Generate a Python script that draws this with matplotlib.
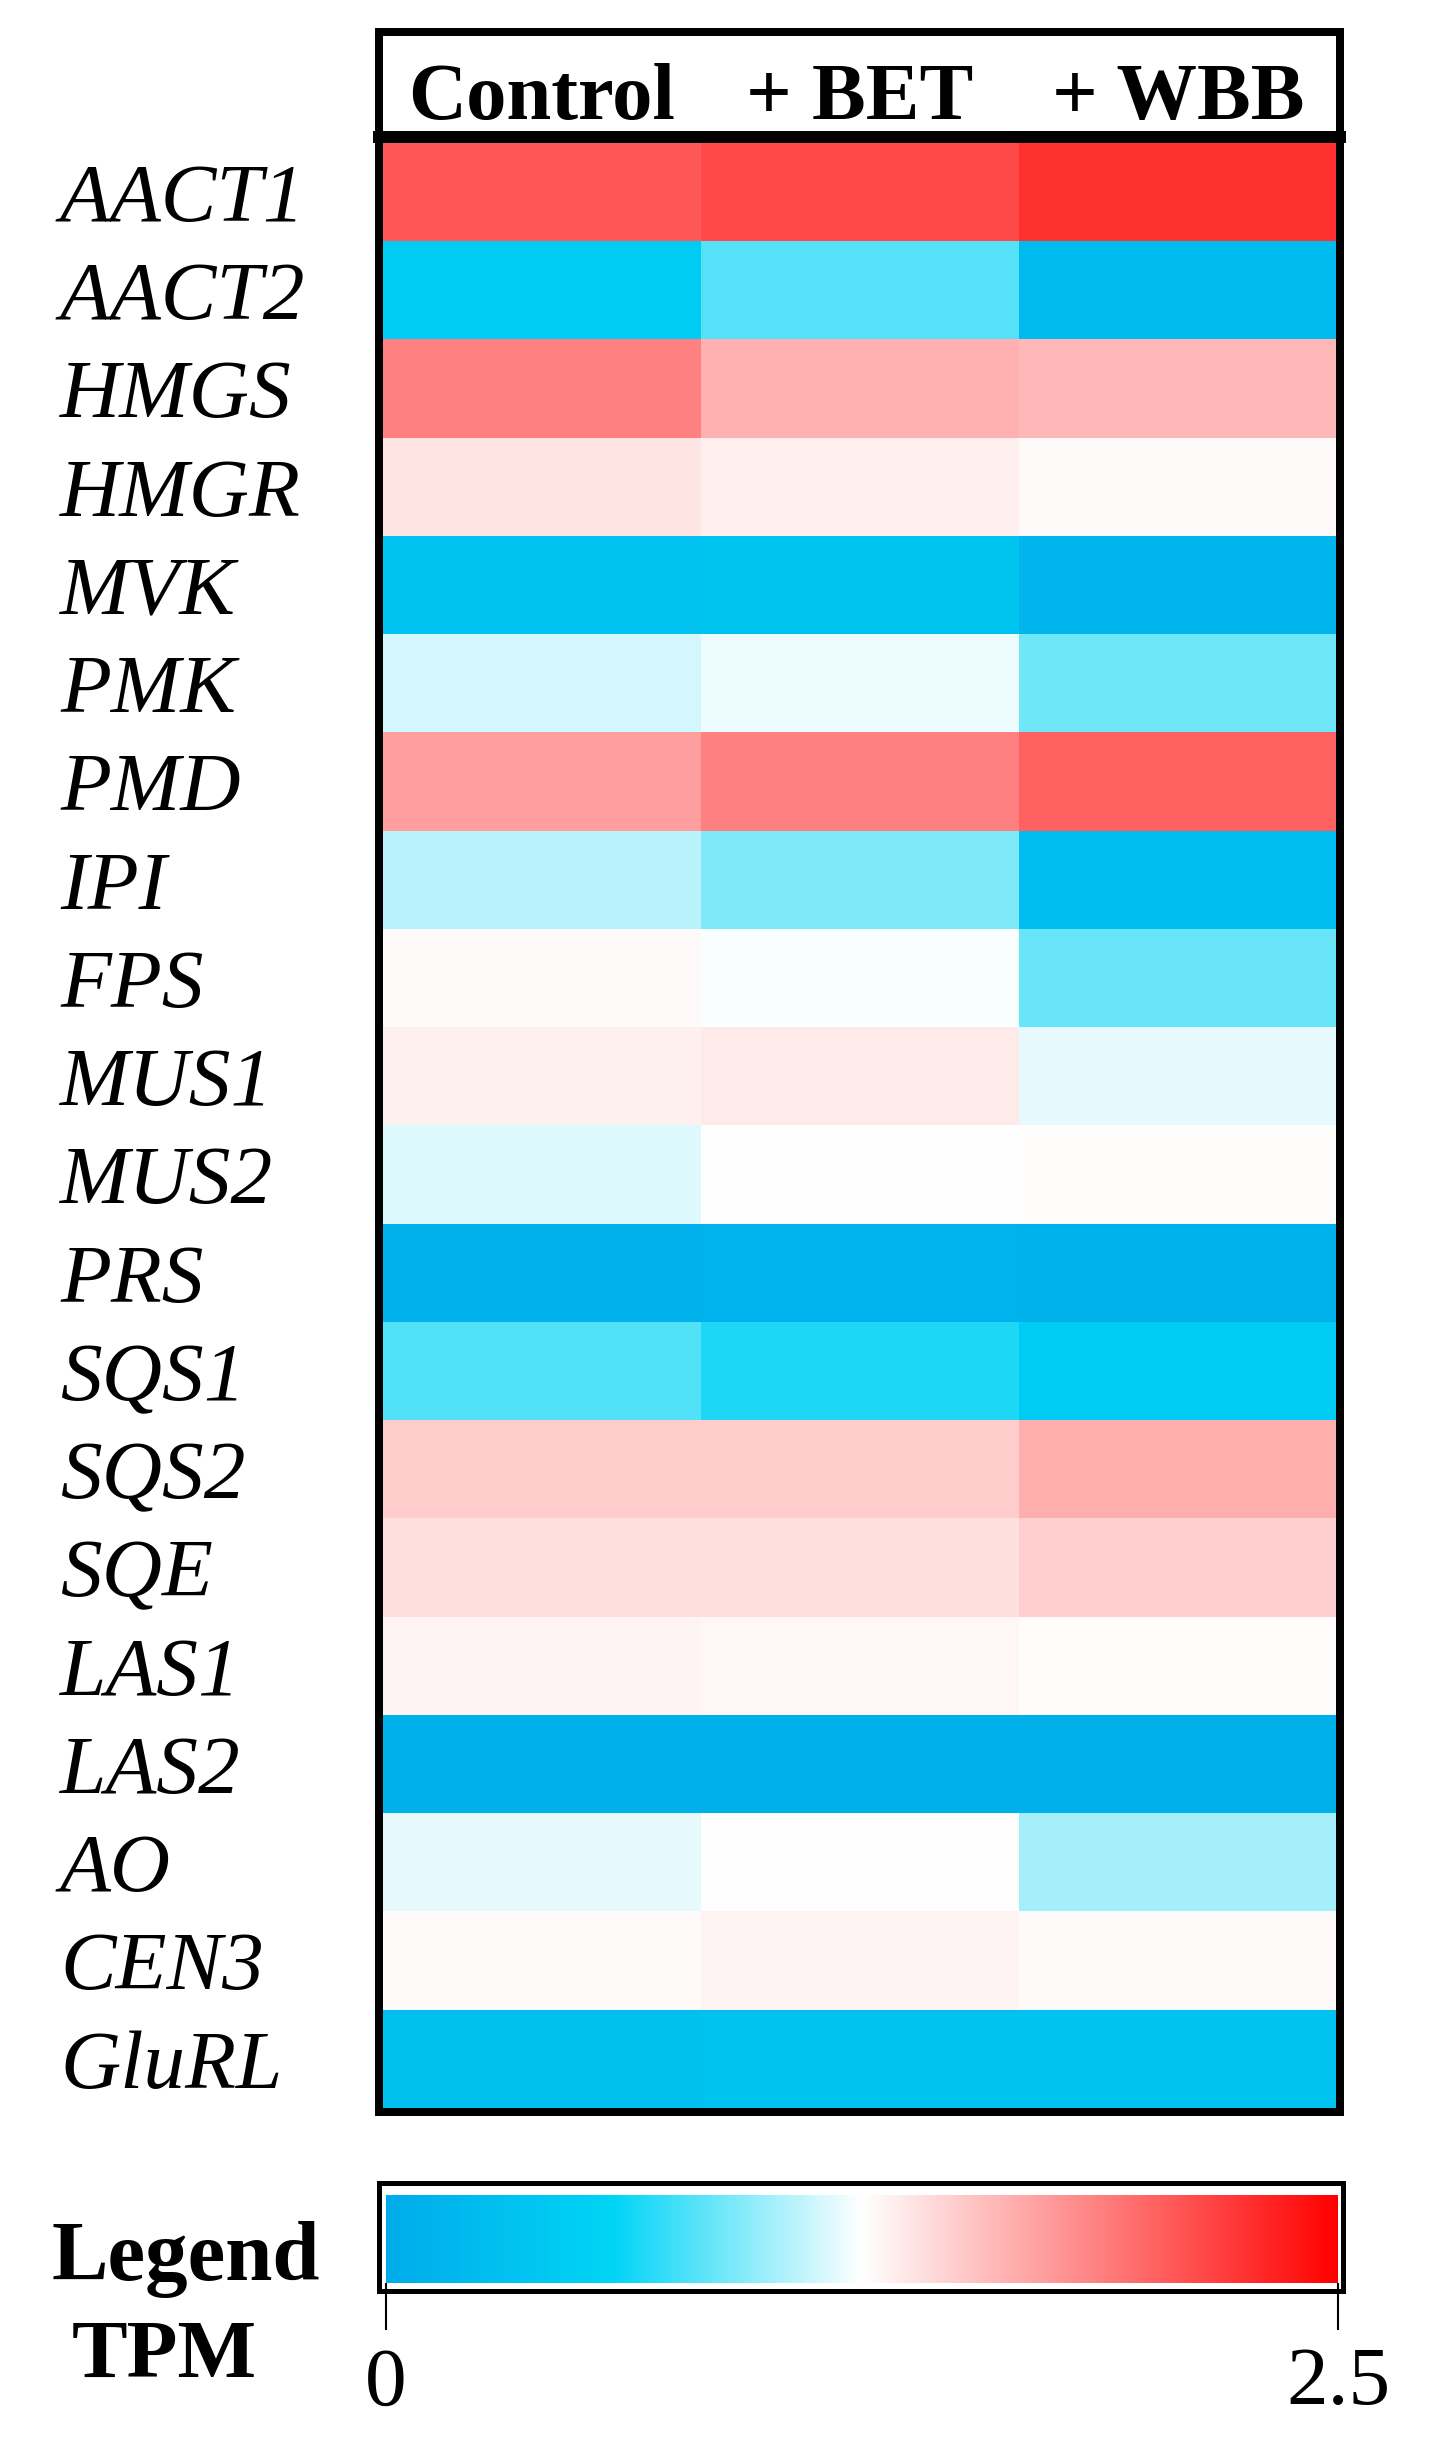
import numpy as np
import matplotlib
matplotlib.use("Agg")
import matplotlib.pyplot as plt
from matplotlib.colors import LinearSegmentedColormap, Normalize
from matplotlib.patches import Rectangle
from matplotlib.lines import Line2D
import matplotlib.transforms as mtransforms

# ---------------- data ----------------
genes = ["AACT1", "AACT2", "HMGS", "HMGR", "MVK", "PMK", "PMD", "IPI", "FPS", "MUS1",
         "MUS2", "PRS", "SQS1", "SQS2", "SQE", "LAS1", "LAS2", "AO", "CEN3", "GluRL"]
conditions = ["Control", "+ BET", "+ WBB"]

control = [2.08, 0.49, 1.87, 1.38, 0.33, 1.14, 1.72, 1.07, 1.27, 1.32,
           1.17, 0.10, 0.81, 1.50, 1.41, 1.30, 0.08, 1.19, 1.27, 0.32]
bet     = [2.14, 0.82, 1.64, 1.33, 0.38, 1.21, 1.87, 0.92, 1.24, 1.35,
           1.25, 0.12, 0.67, 1.50, 1.41, 1.29, 0.08, 1.25, 1.30, 0.35]
wbb     = [2.26, 0.26, 1.60, 1.27, 0.14, 0.88, 2.03, 0.29, 0.86, 1.19,
           1.26, 0.11, 0.49, 1.65, 1.49, 1.26, 0.08, 1.02, 1.27, 0.35]

vmin, vmax = 0.0, 2.5
legend_ticks = [0, 2.5]
legend_ticklabels = ["0", "2.5"]

# ---------------- figure ----------------
W, H = 1452, 2456
fig = plt.figure(figsize=(W / 100, H / 100), dpi=100)
fig.patch.set_facecolor("white")

def fx(x):
    return x / W

def fy(y):
    return 1 - y / H

serif = ["Liberation Serif", "DejaVu Serif"]

cmap = LinearSegmentedColormap.from_list(
    "tpm", [(0.0, "#00ABEA"), (0.237, "#00D4F5"), (0.5, "#FFFFFF"), (1.0, "#FF0000")])
norm = Normalize(vmin=vmin, vmax=vmax)

values = np.column_stack([control, bet, wbb])

# heatmap axes (inner area)
left, right, top, bottom = 383, 1337, 143, 2108
ax = fig.add_axes([fx(left), fy(bottom), fx(right - left), (bottom - top) / H])
im = ax.imshow(values, cmap=cmap, norm=norm, aspect="auto", interpolation="nearest")
for s in ax.spines.values():
    s.set_visible(False)
ax.set_xticks([])
ax.set_yticks(range(len(genes)))
ax.set_yticklabels(genes, fontsize=60, family=serif, style="italic", ha="left")
ax.tick_params(axis="y", length=0, pad=(left - 60) * 0.72)

# column headers
trans = mtransforms.blended_transform_factory(ax.transData, fig.transFigure)
for i, c in enumerate(conditions):
    ax.text(i, fy(119), c, transform=trans, ha="center", va="baseline",
            fontsize=58, family=serif, weight="bold", clip_on=False)

# outer frame + separator
lw_frame = 8 * 0.72
frame = Rectangle((fx(379), fy(2111.5)), fx(1340 - 379), (2111.5 - 31.5) / H,
                  transform=fig.transFigure, fill=False, edgecolor="black",
                  linewidth=lw_frame, joinstyle="miter")
fig.add_artist(frame)
fig.add_artist(Line2D([fx(379), fx(1340)], [fy(136.5), fy(136.5)],
                      transform=fig.transFigure, color="black", linewidth=12 * 0.72))

# legend colour bar
cax = fig.add_axes([fx(386), fy(2283), fx(1338 - 386), (2283 - 2195) / H])
cbar = fig.colorbar(im, cax=cax, orientation="horizontal", ticks=legend_ticks)
cbar.outline.set_visible(False)
cbar.ax.set_xticklabels(legend_ticklabels, fontsize=60, family=serif)
cbar.ax.tick_params(axis="x", length=34, width=1.5, pad=12, color="black")
fig.add_artist(Rectangle((fx(378.5), fy(2290.5)), fx(1342.5 - 378.5), (2290.5 - 2182.5) / H,
                         transform=fig.transFigure, fill=False, edgecolor="black",
                         linewidth=5 * 0.72, joinstyle="miter"))

fig.text(fx(186), fy(2280), "Legend", ha="center", va="baseline",
         fontsize=61, family=serif, weight="bold")
fig.text(fx(164), fy(2377), "TPM", ha="center", va="baseline",
         fontsize=60, family=serif, weight="bold")

fig.savefig("out.png", dpi=100, facecolor="white")
